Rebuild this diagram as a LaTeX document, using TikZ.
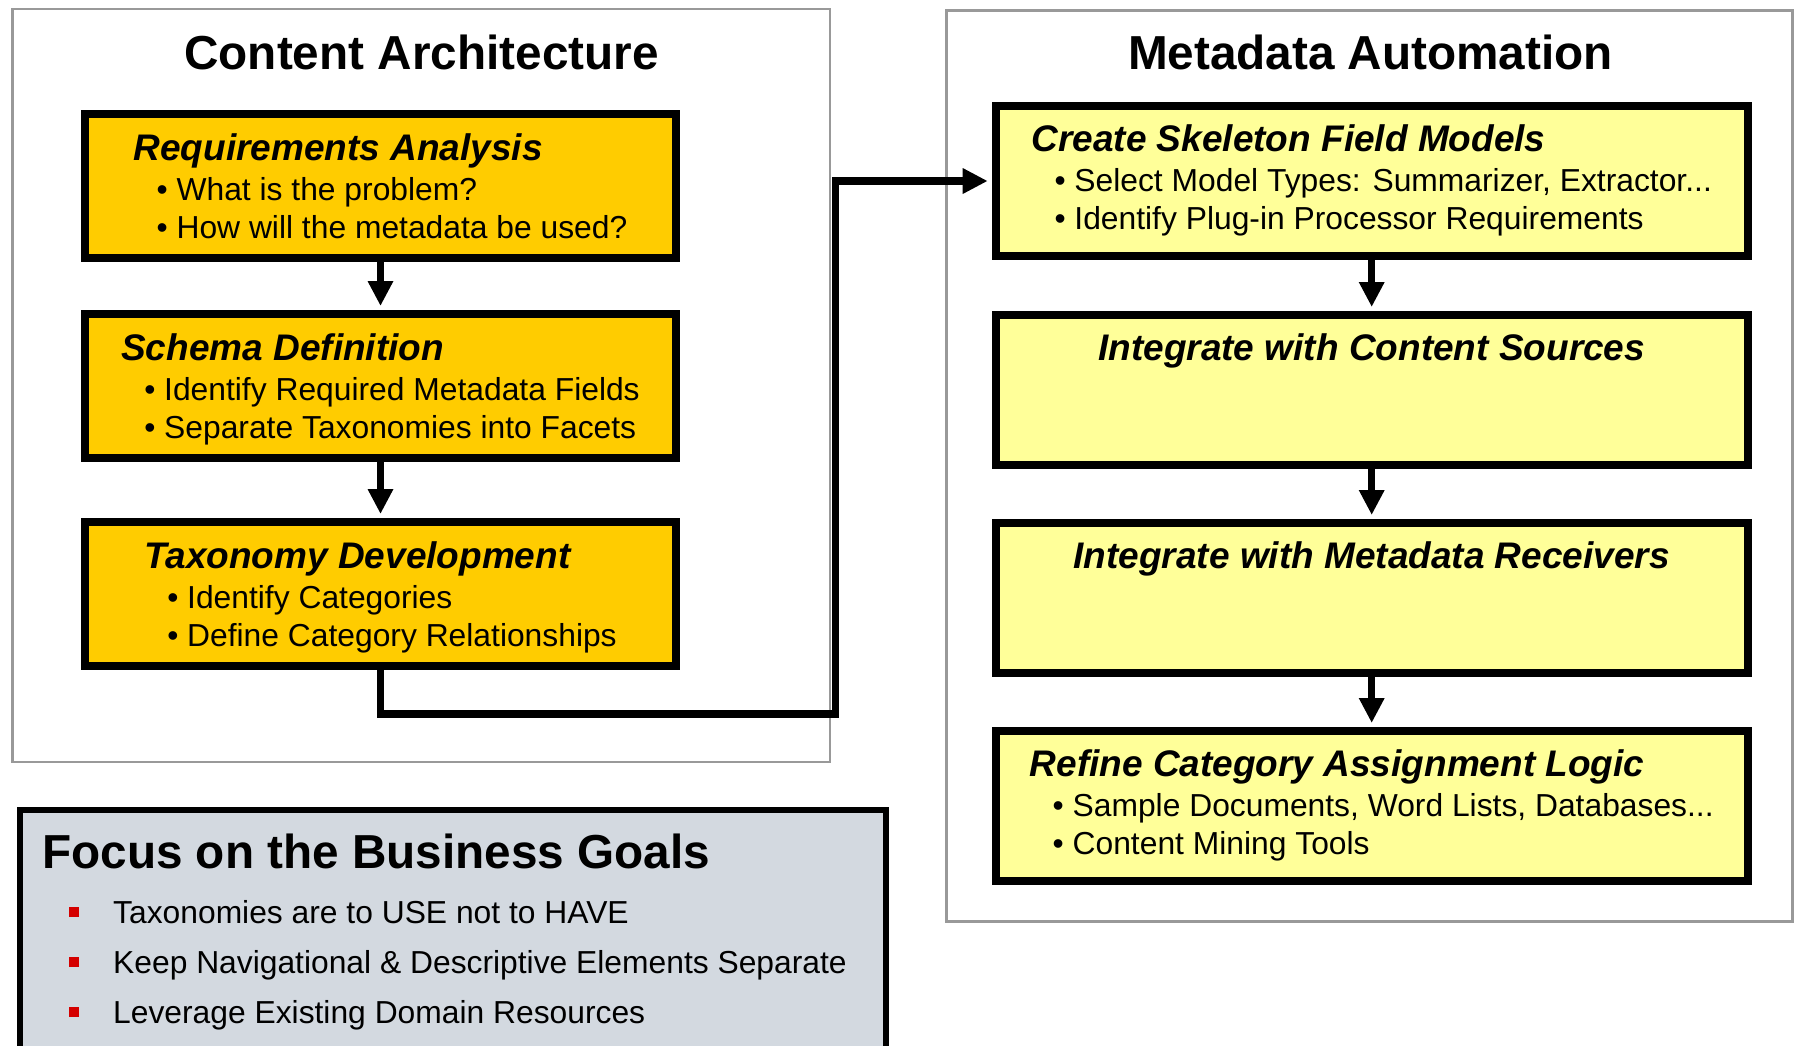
\documentclass[tikz,border=0pt]{standalone}
\usepackage{fontspec}
\setmainfont{Liberation Sans}
\usepackage{tikz}
\usetikzlibrary{arrows.meta}
\usetikzlibrary{positioning}
\definecolor{stepgold}{HTML}{FFCC00}
\definecolor{stepcream}{HTML}{FFFF99}
\definecolor{goalgray}{HTML}{D3D9E0}
\definecolor{framegray}{HTML}{999999}
\definecolor{markred}{HTML}{D40000}
\tikzstyle{frame}=[draw=framegray,line width=2.5pt,inner sep=0pt]
\tikzstyle{frametitle}=[font=\fontsize{47.7}{57}\selectfont\bfseries,inner sep=0pt]
\tikzstyle{stepbox}=[draw=black,line width=8pt,inner sep=0pt]
\tikzstyle{leftbox}=[stepbox,fill=stepgold,minimum width=591pt,minimum height=144pt]
\tikzstyle{rightbox}=[stepbox,fill=stepcream,minimum width=752pt,minimum height=150pt]
\tikzstyle{steptext}=[anchor=north,inner sep=0pt,align=left,font=\fontsize{31.8}{38}\selectfont]
\tikzstyle{flow}=[draw,line width=7.5pt,-{Triangle[length=25pt,width=24pt]},shorten >=4pt]
\tikzstyle{goalbox}=[draw=black,line width=6pt,fill=goalgray,inner sep=0pt]
\tikzstyle{goalmark}=[fill=markred,minimum size=10pt,inner sep=0pt]
\tikzstyle{goalitem}=[anchor=base west,inner sep=0pt,font=\fontsize{31.8}{38}\selectfont]
\newcommand\stephead[1]{{\fontsize{37}{41}\selectfont\bfseries\itshape #1}}
\newcommand\stepitem[1]{\hspace*{23pt}\textbullet\ #1}

\begin{document}
\begin{tikzpicture}[x=1pt,y=-1pt]

  \useasboundingbox (0,0) rectangle (1797,1045);
  \clip (0,0) rectangle (1797,1045);

  % the two frames
  \node[frame,minimum width=817.5pt,minimum height=753pt] (arch) at (421.25,385.5) {};
  \node[frame,minimum width=846pt,minimum height=911pt] (auto) at (1369.5,466) {};
  \node[frametitle] (archtitle) at (421.5,52) {Content Architecture};
  \node[frametitle] (autotitle) at (1370.5,52) {Metadata Automation};

  \foreach \y/\name in {186/req, 386/schema, 594/taxo}
         \node[leftbox] (\name) at (380.5,\y) {};

  \foreach \y/\name in {181/skel, 390/sources, 598/receivers, 806/refine}
         \node[rightbox] (\name) at (1371.7,\y) {};

  \node[steptext] (reqtext) at ([yshift=-23.5pt]req.north)
     {\stephead{Requirements Analysis}\\[2pt] \stepitem{What is the problem?}\\ \stepitem{How will the metadata be used?}};
  \node[steptext] (schematext) at ([yshift=-23.5pt]schema.north)
     {\stephead{Schema Definition}\\[2pt] \stepitem{Identify Required Metadata Fields}\\ \stepitem{Separate Taxonomies into Facets}};
  \node[steptext] (taxotext) at ([yshift=-23.5pt]taxo.north)
     {\stephead{Taxonomy Development}\\[2pt] \stepitem{Identify Categories}\\ \stepitem{Define Category Relationships}};

  \node[steptext] (skeltext) at ([yshift=-22.5pt]skel.north)
     {\stephead{Create Skeleton Field Models}\\[2pt] \stepitem{Select Model Types: Summarizer, Extractor...}\\ \stepitem{Identify Plug-in Processor Requirements}};
  \node[steptext] (sourcestext) at ([yshift=-22.5pt]sources.north) {\stephead{Integrate with Content Sources}};
  \node[steptext] (receiverstext) at ([yshift=-22.5pt]receivers.north) {\stephead{Integrate with Metadata Receivers}};
  \node[steptext] (refinetext) at ([yshift=-22.5pt]refine.north)
     {\stephead{Refine Category Assignment Logic}\\[2pt] \stepitem{Sample Documents, Word Lists, Databases...}\\ \stepitem{Content Mining Tools}};

  \foreach \source/\dest in {req/schema, schema/taxo, skel/sources, sources/receivers, receivers/refine}
         \path[flow] (\source) -- (\dest);

  \coordinate (turn) at (835.5,714);
  \path[flow] (taxo) |- (turn) |- (skel);

  % business goals panel, runs off the bottom
  \node[goalbox,minimum width=866pt,minimum height=290pt] (goals) at (453,954.7) {};
  \node[anchor=base west,inner sep=0pt,font=\fontsize{47.7}{57}\selectfont\bfseries] (goalstitle) at (42,868) {Focus on the Business Goals};

  \foreach \y/\name/\label in {923/use/{Taxonomies are to USE not to HAVE},
                               973.5/keep/{Keep Navigational \& Descriptive Elements Separate},
                               1023/leverage/{Leverage Existing Domain Resources}}
  {
         \node[goalmark] (\name sq) at (74,\y-11.5) {};
         \node[goalitem] (\name) at (113,\y) {\label};
  }

\end{tikzpicture}
\end{document}
